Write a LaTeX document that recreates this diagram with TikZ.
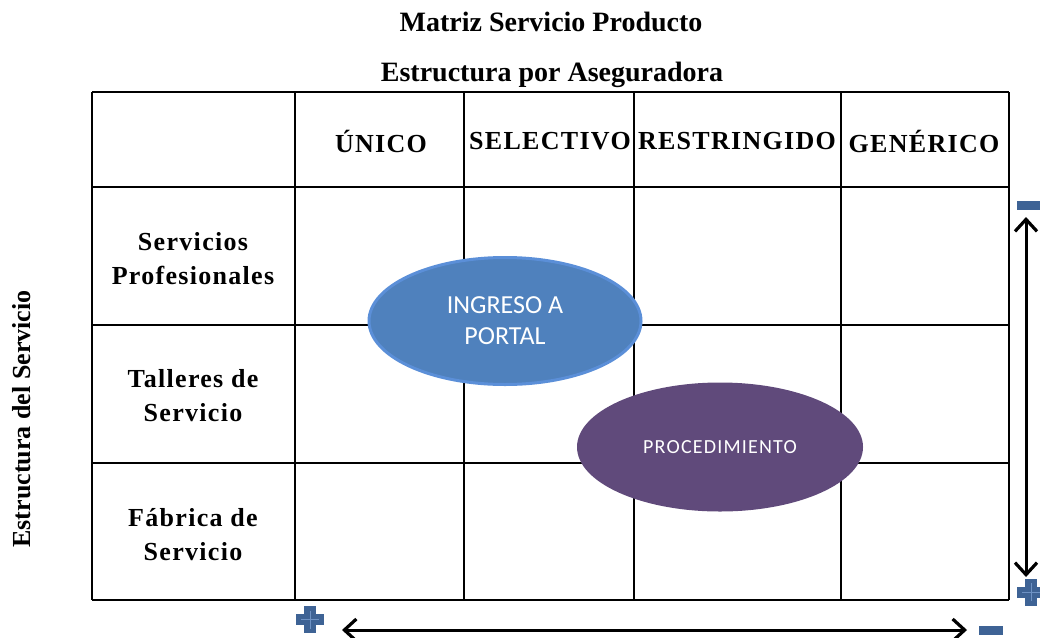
\documentclass[tikz,border=0pt]{standalone}
\usepackage{fontspec}
\setmainfont{Liberation Serif}
\newfontfamily\calfont{Carlito}
\usetikzlibrary{shapes.geometric,arrows.meta}
\definecolor{iblue}{HTML}{4F81BD}
\definecolor{iblueb}{HTML}{5B8FD8}
\definecolor{ipurple}{HTML}{604A7B}
\definecolor{icon}{HTML}{3E6395}
\definecolor{iconl}{HTML}{6E92C4}
\tikzset{
  grid/.style={line width=1.8pt, draw=black},
  head/.style={font=\fontsize{26}{28}\selectfont\bfseries\addfontfeature{LetterSpace=5}, anchor=center},
  rowlab/.style={font=\fontsize{26}{34}\selectfont\bfseries\addfontfeature{LetterSpace=5}, align=center, anchor=center},
  title/.style={font=\fontsize{28}{30}\selectfont\bfseries, anchor=center},
  dbl/.style={line width=3pt, {Straight Barb[length=12pt,width=22pt,line width=3.2pt]}-{Straight Barb[length=12pt,width=22pt,line width=3.2pt]}},
  plusicon/.pic={
    \fill[icon] (-6,-13.5) rectangle (6,13.5);
    \fill[icon] (-14,-5.5) rectangle (14,5.5);
    \draw[iconl, line width=0.6pt] (-9,0) -- (9,0) (0,-9) -- (0,9);
  },
  minusicon/.pic={
    \fill[icon] (-12,-4.5) rectangle (12,4.5);
  }
}
\begin{document}
\begin{tikzpicture}[x=1pt,y=-1pt]
\useasboundingbox (0,0) rectangle (1040,637);
% grid
\foreach \x in {92,295,464,634,841,1009} \draw[grid] (\x,92) -- (\x,600);
\foreach \y in {92,187,325,463,600} \draw[grid] (92,\y) -- (1009,\y);
% titles
\node[title] (t1) at (551,22) {Matriz Servicio Producto};
\node[title] (t2) at (552,75) {Estructura por Aseguradora};
% headers
\node[head] (h1) at (381,141) {ÚNICO};
\node[head] (h2) at (550,141) {SELECTIVO};
\node[head] (h3) at (737,141) {RESTRINGIDO};
\node[head] (h4) at (924,141) {GENÉRICO};
% row labels
\node[rowlab] (r1) at (193,259) {Servicios\\Profesionales};
\node[rowlab] (r2) at (193,396) {Talleres de\\Servicio};
\node[rowlab] (r3) at (193,535) {Fábrica de\\Servicio};
\node[font=\fontsize{26}{28}\selectfont\bfseries, rotate=90] (side) at (22,419) {Estructura del Servicio};
% ellipses
\node[ellipse, fill=iblue, draw=iblueb, line width=3pt, minimum width=272pt, minimum height=127pt, text=white, align=center, font=\calfont\fontsize{26}{31}\selectfont] (e1) at (505,321) {INGRESO A\\PORTAL};
\node[ellipse, fill=ipurple, minimum width=286pt, minimum height=129pt, text=white, font=\calfont\fontsize{20}{22}\selectfont\addfontfeature{LetterSpace=6}] (e2) at (720,447) {PROCEDIMIENTO};
% icons and arrows
\pic (pb) at (310,619.5) {plusicon};
\pic (mb) at (990.5,630) {minusicon};
\pic (pr) at (1031,592) {plusicon};
\pic (mr) at (1029,205) {minusicon};
\coordinate (a1) at (342,630);
\coordinate (a2) at (967,630);
\coordinate (b1) at (1026,217);
\coordinate (b2) at (1026,577);
\draw[dbl] (a1) -- (a2);
\draw[dbl] (b1) -- (b2);
\end{tikzpicture}
\end{document}
